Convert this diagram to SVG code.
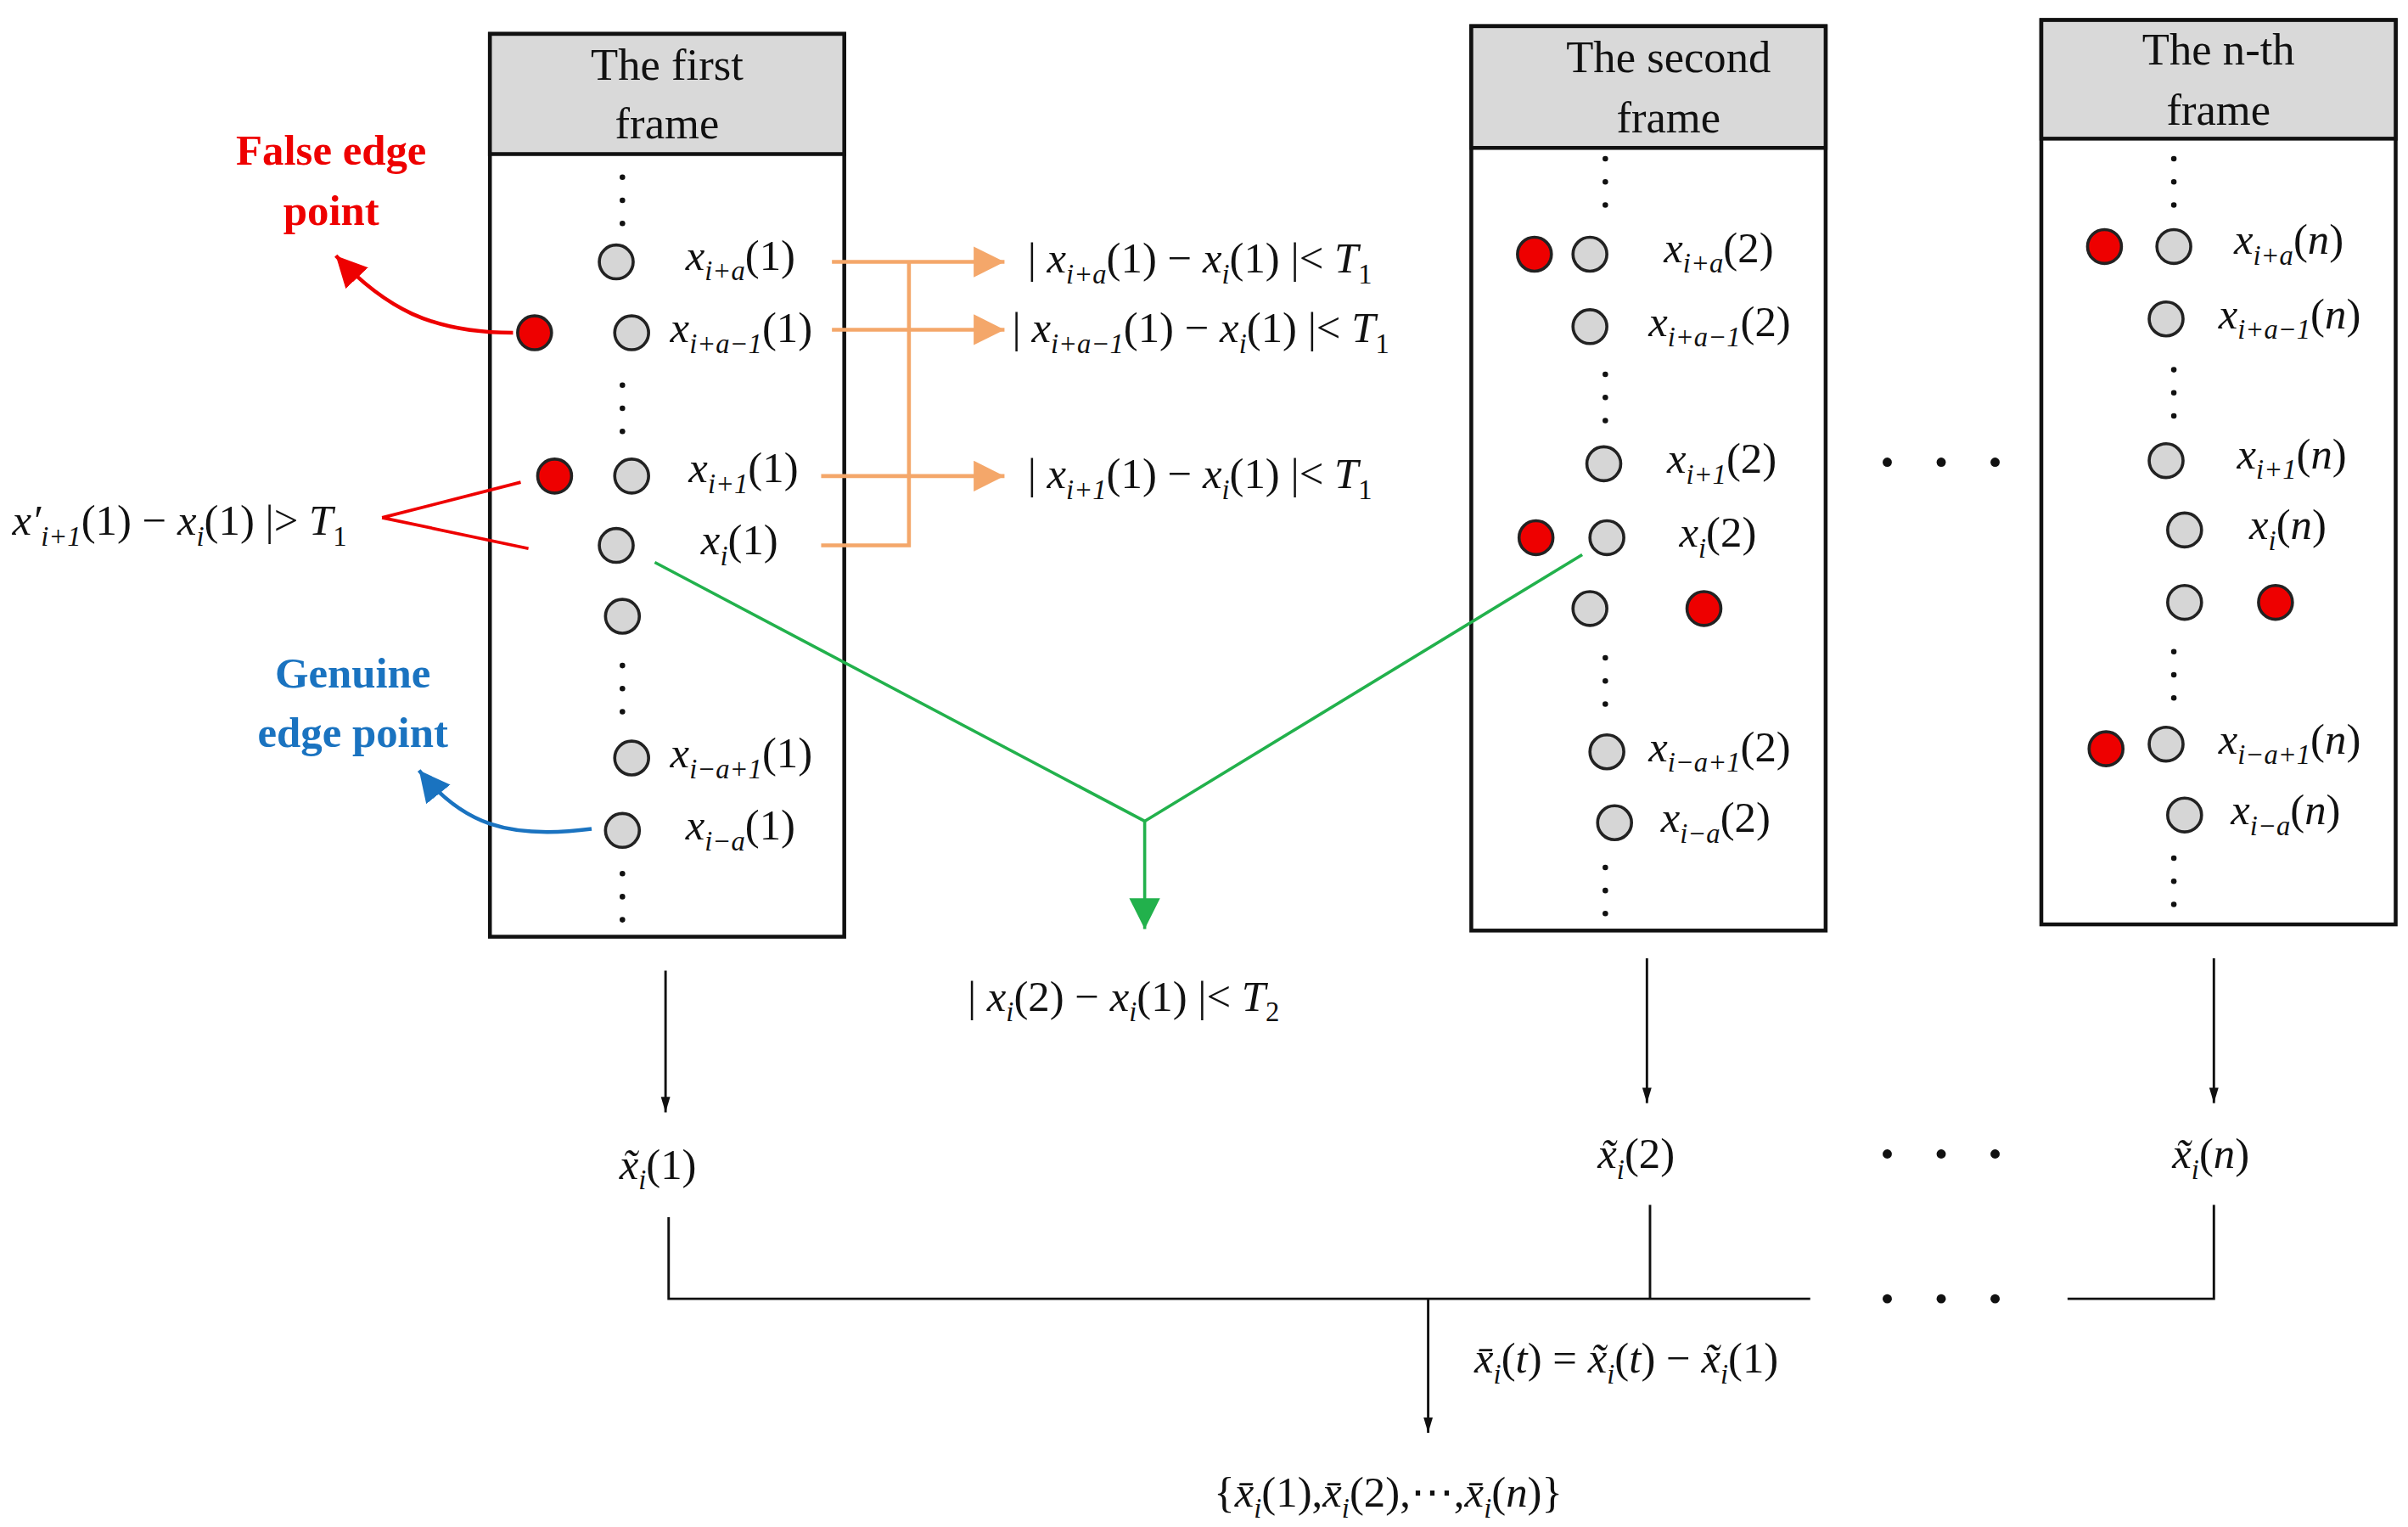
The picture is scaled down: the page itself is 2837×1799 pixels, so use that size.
<svg xmlns="http://www.w3.org/2000/svg" width="2837" height="1799" viewBox="0 0 2837 1799">
<style>
.box{fill:#fff;stroke:#111;stroke-width:2.5}
.hdr{fill:#d9d9d9;stroke:#111;stroke-width:2.5}
.ht{font-family:"Liberation Serif",serif;font-size:29px;text-anchor:middle;fill:#111}
.g{fill:#d6d6d6;stroke:#222;stroke-width:2}
.r{fill:#ee0000;stroke:#222;stroke-width:2}
.m{font-family:"Liberation Serif",serif;font-size:28px;font-style:italic;fill:#111}
.n{font-style:normal}
.s{font-size:18px}
.dot{fill:#111}
.bl{stroke:#111;stroke-width:1.6;fill:none}
.or{stroke:#f4a76a;stroke-width:2.5;fill:none}
.gr{stroke:#22b14c;stroke-width:2;fill:none}
</style>
<defs>
<marker id="ab" markerWidth="10" markerHeight="20" refX="10" refY="5" orient="auto" markerUnits="userSpaceOnUse" viewBox="0 0 10 10"><path d="M0,2 L10,5 L0,8z" fill="#111"/></marker>
<marker id="ao" markerWidth="20" markerHeight="20" refX="10" refY="5" orient="auto" markerUnits="userSpaceOnUse" viewBox="0 0 10 10"><path d="M0,0 L10,5 L0,10z" fill="#f4a76a"/></marker>
<marker id="ag" markerWidth="20" markerHeight="20" refX="10" refY="5" orient="auto" markerUnits="userSpaceOnUse" viewBox="0 0 10 10"><path d="M0,0 L10,5 L0,10z" fill="#22b14c"/></marker>
<marker id="ar" markerWidth="20" markerHeight="20" refX="10" refY="5" orient="auto" markerUnits="userSpaceOnUse" viewBox="0 0 10 10"><path d="M0,0 L10,5 L0,10z" fill="#ee0000"/></marker>
<marker id="abl" markerWidth="20" markerHeight="20" refX="10" refY="5" orient="auto" markerUnits="userSpaceOnUse" viewBox="0 0 10 10"><path d="M0,0 L10,5 L0,10z" fill="#1a73c0"/></marker>
</defs>
<rect width="2837" height="1799" fill="#fff"/>
<g transform="scale(1.8151)">
<g id="frame1">
<rect class="box" x="318" y="22" width="230" height="586"/>
<rect class="hdr" x="318" y="22" width="230" height="78"/>
<text class="ht" x="433" y="52">The first</text><text class="ht" x="433" y="90">frame</text>
<g class="dot"><circle cx="404" cy="115" r="1.8"/><circle cx="404" cy="130" r="1.8"/><circle cx="404" cy="145" r="1.8"/><circle cx="404" cy="250" r="1.8"/><circle cx="404" cy="265" r="1.8"/><circle cx="404" cy="280" r="1.8"/><circle cx="404" cy="432" r="1.8"/><circle cx="404" cy="447" r="1.8"/><circle cx="404" cy="462" r="1.8"/><circle cx="404" cy="567" r="1.8"/><circle cx="404" cy="582" r="1.8"/><circle cx="404" cy="597" r="1.8"/></g>
<circle class="g" cx="400" cy="170" r="11"/><circle class="r" cx="347" cy="216" r="11"/><circle class="g" cx="410" cy="216" r="11"/>
<circle class="r" cx="360" cy="309" r="11"/><circle class="g" cx="410" cy="309" r="11"/><circle class="g" cx="400" cy="354" r="11"/><circle class="g" cx="404" cy="400" r="11"/><circle class="g" cx="410" cy="492" r="11"/><circle class="g" cx="404" cy="539" r="11"/>
<text class="m" x="445" y="175">x<tspan class="s" dy="7">i+a</tspan><tspan class="n" dy="-7">(1)</tspan></text>
<text class="m" x="435" y="222">x<tspan class="s" dy="7">i+a−1</tspan><tspan class="n" dy="-7">(1)</tspan></text>
<text class="m" x="447" y="313">x<tspan class="s" dy="7">i+1</tspan><tspan class="n" dy="-7">(1)</tspan></text>
<text class="m" x="455" y="360">x<tspan class="s" dy="7">i</tspan><tspan class="n" dy="-7">(1)</tspan></text>
<text class="m" x="435" y="498">x<tspan class="s" dy="7">i−a+1</tspan><tspan class="n" dy="-7">(1)</tspan></text>
<text class="m" x="445" y="545">x<tspan class="s" dy="7">i−a</tspan><tspan class="n" dy="-7">(1)</tspan></text>
</g>
<g id="frame2">
<rect class="box" x="955" y="17" width="230" height="587"/>
<rect class="hdr" x="955" y="17" width="230" height="79"/>
<text class="ht" x="1083" y="47">The second</text><text class="ht" x="1083" y="86">frame</text>
<g class="dot"><circle cx="1042" cy="103" r="1.8"/><circle cx="1042" cy="118" r="1.8"/><circle cx="1042" cy="133" r="1.8"/><circle cx="1042" cy="243" r="1.8"/><circle cx="1042" cy="258" r="1.8"/><circle cx="1042" cy="273" r="1.8"/><circle cx="1042" cy="427" r="1.8"/><circle cx="1042" cy="442" r="1.8"/><circle cx="1042" cy="457" r="1.8"/><circle cx="1042" cy="563" r="1.8"/><circle cx="1042" cy="578" r="1.8"/><circle cx="1042" cy="593" r="1.8"/></g>
<circle class="r" cx="996" cy="165" r="11"/><circle class="g" cx="1032" cy="165" r="11"/><circle class="g" cx="1032" cy="212" r="11"/><circle class="g" cx="1041" cy="301" r="11"/>
<circle class="r" cx="997" cy="349" r="11"/><circle class="g" cx="1043" cy="349" r="11"/><circle class="g" cx="1032" cy="395" r="11"/><circle class="r" cx="1106" cy="395" r="11"/><circle class="g" cx="1043" cy="488" r="11"/><circle class="g" cx="1048" cy="534" r="11"/>
<text class="m" x="1080" y="170">x<tspan class="s" dy="7">i+a</tspan><tspan class="n" dy="-7">(2)</tspan></text>
<text class="m" x="1070" y="218">x<tspan class="s" dy="7">i+a−1</tspan><tspan class="n" dy="-7">(2)</tspan></text>
<text class="m" x="1082" y="307">x<tspan class="s" dy="7">i+1</tspan><tspan class="n" dy="-7">(2)</tspan></text>
<text class="m" x="1090" y="355">x<tspan class="s" dy="7">i</tspan><tspan class="n" dy="-7">(2)</tspan></text>
<text class="m" x="1070" y="494">x<tspan class="s" dy="7">i−a+1</tspan><tspan class="n" dy="-7">(2)</tspan></text>
<text class="m" x="1078" y="540">x<tspan class="s" dy="7">i−a</tspan><tspan class="n" dy="-7">(2)</tspan></text>
</g>
<g id="framen">
<rect class="box" x="1325" y="13" width="230" height="587"/>
<rect class="hdr" x="1325" y="13" width="230" height="77"/>
<text class="ht" x="1440" y="42">The n-th</text><text class="ht" x="1440" y="81">frame</text>
<g class="dot"><circle cx="1411" cy="103" r="1.8"/><circle cx="1411" cy="118" r="1.8"/><circle cx="1411" cy="133" r="1.8"/><circle cx="1411" cy="240" r="1.8"/><circle cx="1411" cy="255" r="1.8"/><circle cx="1411" cy="270" r="1.8"/><circle cx="1411" cy="423" r="1.8"/><circle cx="1411" cy="438" r="1.8"/><circle cx="1411" cy="453" r="1.8"/><circle cx="1411" cy="557" r="1.8"/><circle cx="1411" cy="572" r="1.8"/><circle cx="1411" cy="587" r="1.8"/></g>
<circle class="r" cx="1366" cy="160" r="11"/><circle class="g" cx="1411" cy="160" r="11"/><circle class="g" cx="1406" cy="207" r="11"/><circle class="g" cx="1406" cy="299" r="11"/><circle class="g" cx="1418" cy="344" r="11"/><circle class="g" cx="1418" cy="391" r="11"/><circle class="r" cx="1477" cy="391" r="11"/><circle class="r" cx="1367" cy="486" r="11"/><circle class="g" cx="1406" cy="483" r="11"/><circle class="g" cx="1418" cy="529" r="11"/>
<text class="m" x="1450" y="165">x<tspan class="s" dy="7">i+a</tspan><tspan class="n" dy="-7">(</tspan>n<tspan class="n">)</tspan></text>
<text class="m" x="1440" y="213">x<tspan class="s" dy="7">i+a−1</tspan><tspan class="n" dy="-7">(</tspan>n<tspan class="n">)</tspan></text>
<text class="m" x="1452" y="304">x<tspan class="s" dy="7">i+1</tspan><tspan class="n" dy="-7">(</tspan>n<tspan class="n">)</tspan></text>
<text class="m" x="1460" y="350">x<tspan class="s" dy="7">i</tspan><tspan class="n" dy="-7">(</tspan>n<tspan class="n">)</tspan></text>
<text class="m" x="1440" y="489">x<tspan class="s" dy="7">i−a+1</tspan><tspan class="n" dy="-7">(</tspan>n<tspan class="n">)</tspan></text>
<text class="m" x="1448" y="535">x<tspan class="s" dy="7">i−a</tspan><tspan class="n" dy="-7">(</tspan>n<tspan class="n">)</tspan></text>
</g>
<g id="ellipses" class="dot">
<circle cx="1225" cy="300" r="3"/><circle cx="1260" cy="300" r="3"/><circle cx="1295" cy="300" r="3"/>
<circle cx="1225" cy="749" r="3"/><circle cx="1260" cy="749" r="3"/><circle cx="1295" cy="749" r="3"/>
<circle cx="1225" cy="843" r="3"/><circle cx="1260" cy="843" r="3"/><circle cx="1295" cy="843" r="3"/>
</g>
<g id="connectors">
<path class="or" d="M540,170 H652" marker-end="url(#ao)"/>
<path class="or" d="M540,214 H652" marker-end="url(#ao)"/>
<path class="or" d="M533,309 H652" marker-end="url(#ao)"/>
<path class="or" d="M533,354 H590 V170"/>
<path class="gr" d="M425,365 L743,533 L1027,360"/>
<path class="gr" d="M743,533 V603" marker-end="url(#ag)"/>
<path d="M248,336 L338,313 M248,336 L343,356" stroke="#ee0000" stroke-width="2" fill="none"/>
<path d="M333,216 C280,216 250,200 218,166" stroke="#ee0000" stroke-width="2.5" fill="none" marker-end="url(#ar)"/>
<path d="M384,538 C330,545 300,535 272,500" stroke="#1a73c0" stroke-width="2.5" fill="none" marker-end="url(#abl)"/>
<path class="bl" d="M432,630 V722" marker-end="url(#ab)"/>
<path class="bl" d="M1069,622 V716" marker-end="url(#ab)"/>
<path class="bl" d="M1437,622 V716" marker-end="url(#ab)"/>
<path class="bl" d="M434,790 V843 H1175 M1071,782 V843 M1342,843 H1437 V782"/>
<path class="bl" d="M927,843 V930" marker-end="url(#ab)"/>
</g>
<g id="labels">
<text class="m" x="667" y="177"><tspan class="n">| </tspan>x<tspan class="s" dy="7">i+a</tspan><tspan class="n" dy="-7">(1) − </tspan>x<tspan class="s" dy="7">i</tspan><tspan class="n" dy="-7">(1) |&lt; </tspan>T<tspan class="s n" dy="7">1</tspan></text>
<text class="m" x="657" y="222"><tspan class="n">| </tspan>x<tspan class="s" dy="7">i+a−1</tspan><tspan class="n" dy="-7">(1) − </tspan>x<tspan class="s" dy="7">i</tspan><tspan class="n" dy="-7">(1) |&lt; </tspan>T<tspan class="s n" dy="7">1</tspan></text>
<text class="m" x="667" y="317"><tspan class="n">| </tspan>x<tspan class="s" dy="7">i+1</tspan><tspan class="n" dy="-7">(1) − </tspan>x<tspan class="s" dy="7">i</tspan><tspan class="n" dy="-7">(1) |&lt; </tspan>T<tspan class="s n" dy="7">1</tspan></text>
<text class="m" x="8" y="347">x′<tspan class="s" dy="7">i+1</tspan><tspan class="n" dy="-7">(1) − </tspan>x<tspan class="s" dy="7">i</tspan><tspan class="n" dy="-7">(1) |&gt; </tspan>T<tspan class="s n" dy="7">1</tspan></text>
<text class="m" x="628" y="656"><tspan class="n">| </tspan>x<tspan class="s" dy="7">i</tspan><tspan class="n" dy="-7">(2) − </tspan>x<tspan class="s" dy="7">i</tspan><tspan class="n" dy="-7">(1) |&lt; </tspan>T<tspan class="s n" dy="7">2</tspan></text>
<text font-family="Liberation Serif,serif" font-weight="bold" font-size="28" fill="#ee0000" text-anchor="middle"><tspan x="215" y="107">False edge</tspan><tspan x="215" y="146">point</tspan></text>
<text font-family="Liberation Serif,serif" font-weight="bold" font-size="28" fill="#1a73c0" text-anchor="middle"><tspan x="229" y="446">Genuine</tspan><tspan x="229" y="485">edge point</tspan></text>
<text class="m" x="402" y="765">x̃<tspan class="s" dy="7">i</tspan><tspan class="n" dy="-7">(1)</tspan></text>
<text class="m" x="1037" y="758">x̃<tspan class="s" dy="7">i</tspan><tspan class="n" dy="-7">(2)</tspan></text>
<text class="m" x="1410" y="758">x̃<tspan class="s" dy="7">i</tspan><tspan class="n" dy="-7">(</tspan>n<tspan class="n">)</tspan></text>
<text class="m" x="957" y="891">x̄<tspan class="s" dy="7">i</tspan><tspan class="n" dy="-7">(</tspan>t<tspan class="n">) = </tspan>x̃<tspan class="s" dy="7">i</tspan><tspan class="n" dy="-7">(</tspan>t<tspan class="n">) − </tspan>x̃<tspan class="s" dy="7">i</tspan><tspan class="n" dy="-7">(1)</tspan></text>
<text class="m" x="788" y="978"><tspan class="n">{</tspan>x̄<tspan class="s" dy="7">i</tspan><tspan class="n" dy="-7">(1),</tspan>x̄<tspan class="s" dy="7">i</tspan><tspan class="n" dy="-7">(2),⋯,</tspan>x̄<tspan class="s" dy="7">i</tspan><tspan class="n" dy="-7">(</tspan>n<tspan class="n">)}</tspan></text>
</g>
</g>
</svg>
